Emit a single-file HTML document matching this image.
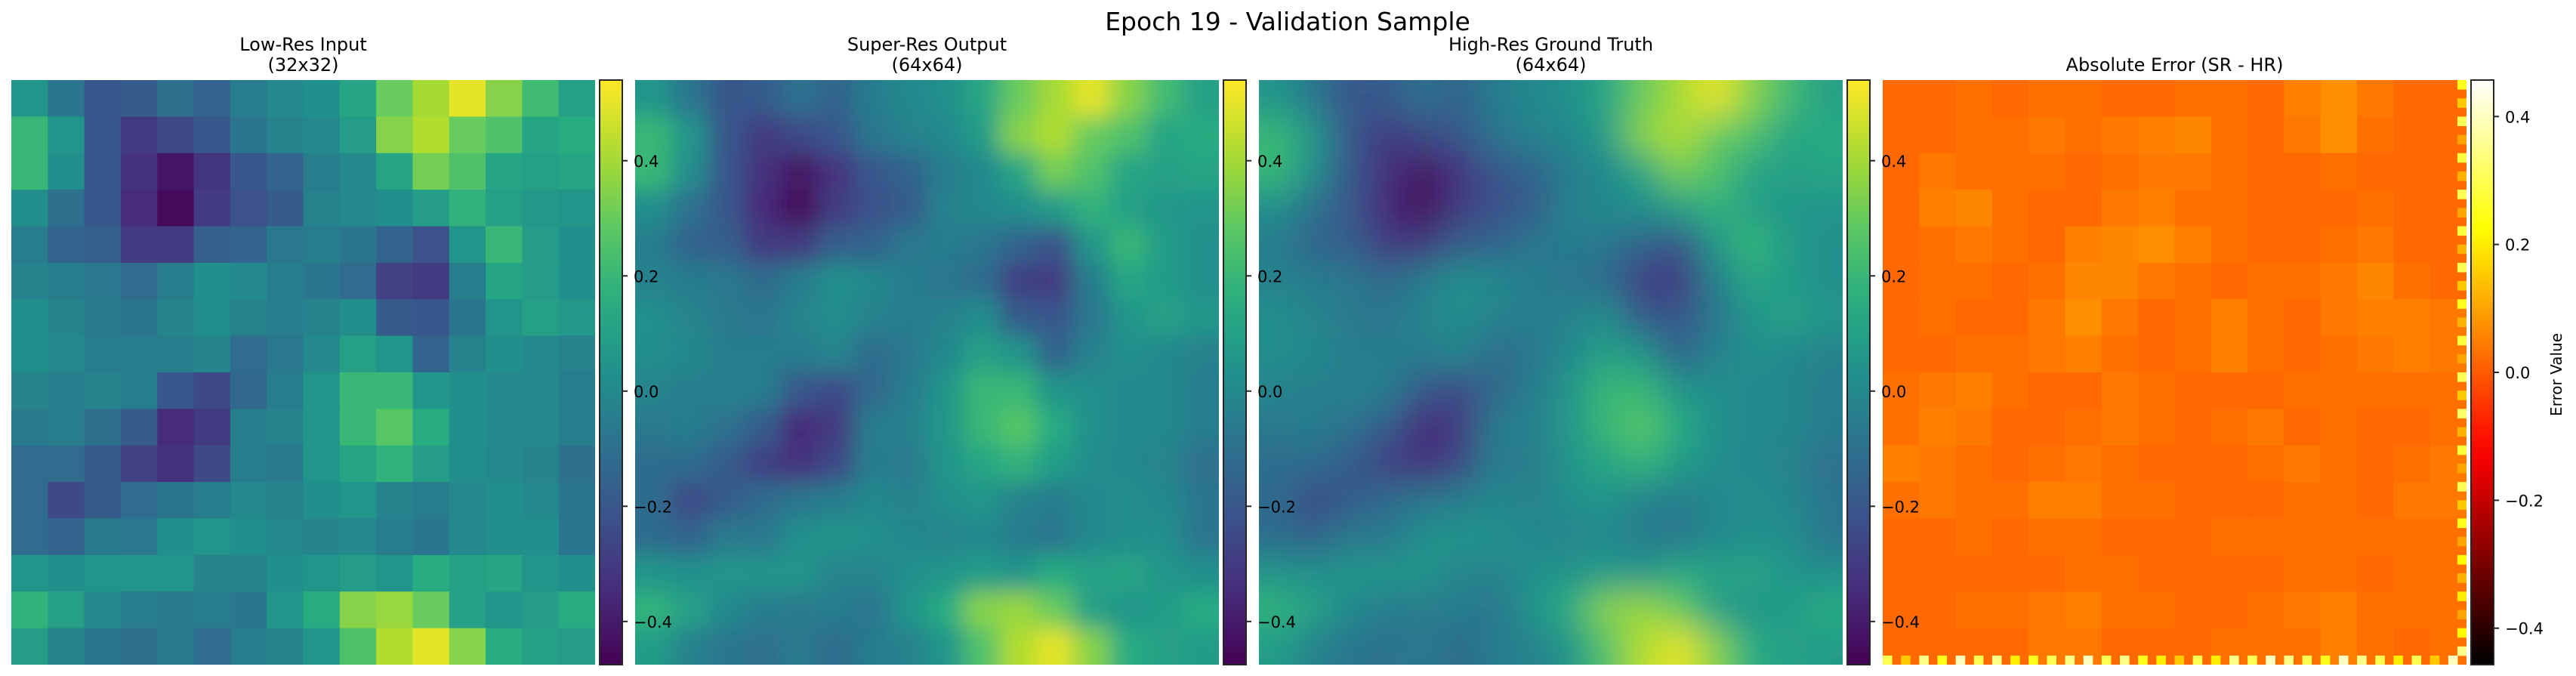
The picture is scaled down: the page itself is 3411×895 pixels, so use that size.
<!DOCTYPE html>
<html><head><meta charset="utf-8">
<style>
html,body{margin:0;padding:0;background:#fff;width:3411px;height:895px;overflow:hidden;}
svg{display:block;font-family:"DejaVu Sans","Liberation Sans",sans-serif;}
</style></head>
<body>
<svg id="fig" width="3411" height="895" viewBox="0 0 3411 895" xmlns="http://www.w3.org/2000/svg" overflow="hidden">
<defs>
<linearGradient id="gViridis" x1="0" y1="1" x2="0" y2="0"></linearGradient>
<linearGradient id="gHot" x1="0" y1="1" x2="0" y2="0"></linearGradient>
<filter id="blurHR" filterUnits="userSpaceOnUse" x="1600" y="40" width="908" height="854"><feGaussianBlur stdDeviation="22"/><feComponentTransfer><feFuncA type="linear" slope="60"/></feComponentTransfer></filter>
<filter id="blurSR" filterUnits="userSpaceOnUse" x="774" y="40" width="908" height="854"><feGaussianBlur stdDeviation="15"/><feComponentTransfer><feFuncA type="linear" slope="60"/></feComponentTransfer></filter>
<clipPath id="clip1"><rect x="15" y="106" width="773" height="774"/></clipPath>
<clipPath id="clip2"><rect x="841" y="106" width="773" height="774"/></clipPath>
<clipPath id="clip3"><rect x="1667" y="106" width="773" height="774"/></clipPath>
<clipPath id="clip4"><rect x="2493" y="106" width="773" height="774"/></clipPath>
</defs>
<text x="1705" y="40" font-size="33" text-anchor="middle" fill="#000">Epoch 19 - Validation Sample</text>
<g id="panels"></g>
</svg>
<script>
// ---- data ----
const lrValues = [
[0.05,-0.08,-0.20,-0.18,-0.10,-0.15,-0.05,0.00,0.03,0.12,0.30,0.40,0.50,0.35,0.22,0.10],
[0.20,0.05,-0.20,-0.30,-0.25,-0.20,-0.08,-0.03,0.00,0.08,0.35,0.42,0.30,0.25,0.12,0.15],
[0.20,0.02,-0.20,-0.33,-0.42,-0.32,-0.20,-0.15,-0.05,0.00,0.12,0.32,0.25,0.12,0.10,0.12],
[0.02,-0.10,-0.20,-0.35,-0.45,-0.30,-0.22,-0.18,-0.03,0.00,0.02,0.08,0.18,0.10,0.06,0.05],
[-0.05,-0.15,-0.17,-0.30,-0.30,-0.17,-0.15,-0.07,-0.05,-0.08,-0.15,-0.22,0.05,0.20,0.08,0.03],
[-0.03,-0.05,-0.07,-0.12,-0.05,0.03,0.00,-0.05,-0.08,-0.12,-0.28,-0.30,-0.05,0.12,0.08,0.03],
[0.03,-0.02,-0.06,-0.08,-0.02,0.02,-0.03,-0.05,-0.03,0.02,-0.18,-0.20,-0.08,0.05,0.10,0.06],
[0.02,0.00,-0.05,-0.05,-0.05,-0.02,-0.12,-0.07,0.00,0.10,0.05,-0.15,-0.03,0.03,0.00,-0.03],
[-0.02,-0.05,-0.03,-0.05,-0.20,-0.25,-0.13,-0.05,0.05,0.20,0.20,0.05,0.03,0.00,0.00,-0.05],
[-0.06,-0.05,-0.10,-0.18,-0.35,-0.30,-0.05,-0.03,0.05,0.20,0.27,0.15,0.03,0.00,0.00,-0.05],
[-0.12,-0.12,-0.18,-0.28,-0.33,-0.25,-0.05,-0.06,0.05,0.12,0.18,0.08,0.02,0.00,-0.02,-0.10],
[-0.12,-0.25,-0.18,-0.12,-0.08,-0.05,0.00,-0.03,0.03,0.05,-0.03,-0.05,0.00,0.02,0.00,-0.08],
[-0.12,-0.15,-0.06,-0.07,0.03,0.05,0.03,0.00,-0.02,0.00,-0.05,-0.08,0.00,0.02,0.03,-0.08],
[0.05,0.03,0.05,0.05,0.05,-0.02,-0.02,0.03,0.05,0.08,0.05,0.15,0.10,0.12,0.05,0.03],
[0.18,0.10,0.00,-0.05,-0.06,-0.05,-0.08,0.05,0.15,0.35,0.38,0.30,0.10,0.05,0.08,0.15],
[0.08,-0.03,-0.08,-0.10,-0.06,-0.12,-0.05,-0.03,0.05,0.25,0.42,0.50,0.35,0.15,0.10,0.08]
];
// SR and HR depict the same field as the LR input at higher resolution
const srValues = lrValues;
const hrValues = lrValues;
const errValues = [
[.02,.02,.03,.02,.03,.03,.02,.02,.03,.03,.02,.05,.07,.04,.02,.02],
[.02,.02,.03,.03,.04,.03,.04,.05,.06,.03,.02,.04,.07,.03,.02,.02],
[.02,.04,.03,.03,.03,.02,.03,.04,.04,.03,.02,.02,.03,.02,.02,.02],
[.02,.05,.06,.03,.02,.02,.04,.05,.03,.03,.02,.02,.02,.03,.02,.02],
[.02,.03,.04,.03,.02,.05,.06,.07,.05,.03,.02,.02,.03,.04,.02,.02],
[.02,.03,.03,.02,.03,.06,.06,.04,.03,.02,.03,.03,.04,.06,.03,.02],
[.02,.03,.02,.02,.04,.07,.04,.02,.03,.05,.03,.02,.04,.05,.05,.04],
[.02,.02,.03,.03,.04,.05,.03,.02,.03,.05,.03,.02,.03,.04,.05,.04],
[.03,.04,.05,.03,.02,.02,.04,.03,.02,.02,.02,.03,.03,.03,.03,.03],
[.03,.05,.04,.02,.02,.03,.04,.03,.02,.03,.04,.02,.03,.02,.02,.03],
[.05,.04,.03,.02,.03,.04,.03,.02,.02,.02,.03,.04,.03,.02,.03,.04],
[.03,.04,.03,.03,.05,.05,.03,.03,.02,.02,.02,.03,.03,.02,.04,.04],
[.02,.02,.03,.02,.03,.03,.02,.02,.02,.03,.03,.03,.03,.03,.03,.03],
[.02,.02,.02,.02,.02,.03,.03,.02,.02,.02,.02,.03,.03,.02,.03,.03],
[.02,.02,.03,.03,.04,.05,.03,.03,.02,.02,.03,.04,.05,.03,.03,.03],
[.02,.02,.02,.02,.04,.04,.02,.02,.02,.03,.03,.03,.05,.03,.02,.03]
];
const errBottomEdge = [0.30,0.15,0.35,0.25,0.40,0.30,0.35,0.20,0.25,0.30,0.35,0.40,0.30,0.35,0.25,0.20,0.15,0.30,0.20,0.35,0.30,0.40,0.35,0.30,0.25,0.40,0.35,0.30,0.20,0.30,0.15,0.40];
const errRightEdge = [0.25,0.15,0.30,0.10,0.28,0.12,0.30,0.10,0.28,0.12,0.30,0.15,0.25,0.12,0.28,0.10,0.30,0.15,0.32,0.12,0.28,0.10,0.30,0.15,0.25,0.10,0.22,0.12,0.20,0.10,0.22,0.35];
const fieldTicks = [0.4, 0.2, 0.0, -0.2, -0.4];
const errTicks = [0.4, 0.2, 0.0, -0.2, -0.4];
const fieldRange = [-0.475, 0.54];
const errRange = [-0.457, 0.457];
const panelTitles = [["Low-Res Input","(32x32)"],["Super-Res Output","(64x64)"],["High-Res Ground Truth","(64x64)"],["Absolute Error (SR - HR)",""]];

// ---- colormaps ----
const viridisStops = ["#440154","#472d7b","#3b528b","#2c728e","#21918c","#28ae80","#5ec962","#addc30","#fde725"];
function hex2rgb(h){return [parseInt(h.slice(1,3),16),parseInt(h.slice(3,5),16),parseInt(h.slice(5,7),16)];}
function viridis(t){
  t=Math.max(0,Math.min(1,t));
  const n=viridisStops.length-1, i=Math.min(n-1,Math.floor(t*n)), f=t*n-i;
  const a=hex2rgb(viridisStops[i]), b=hex2rgb(viridisStops[i+1]);
  return `rgb(${a.map((v,k)=>Math.round(v+(b[k]-v)*f)).join(",")})`;
}
function hot(t){
  t=Math.max(0,Math.min(1,t));
  const cl=x=>Math.max(0,Math.min(1,x));
  const r=cl(t/0.365), g=cl((t-0.365)/0.381), b=cl((t-0.746)/0.254);
  return `rgb(${Math.round(r*255)},${Math.round(g*255)},${Math.round(b*255)})`;
}
const NS="http://www.w3.org/2000/svg";
function mk(tag,attrs,parent){const e=document.createElementNS(NS,tag);for(const k in attrs)e.setAttribute(k,attrs[k]);if(parent)parent.appendChild(e);return e;}

// gradients
const gv=document.getElementById("gViridis"), gh=document.getElementById("gHot");
for(let i=0;i<=20;i++){const t=i/20;mk("stop",{offset:t,"stop-color":viridis(t)},gv);mk("stop",{offset:t,"stop-color":hot(t)},gh);}

// ---- layout ----
const TOP=106, H=774, W=773;
const panelX=[15,841,1667,2493];
const cbarX=[794,1620,2446,3272];
const CBW=30;
function yScale(v,range){return TOP+H-(v-range[0])/(range[1]-range[0])*H;}
function xCell(c,n,x0){return x0+c*W/n;}
function yCell(r,n){return TOP+r*H/n;}

const root=document.getElementById("panels");
function drawHeat(idx,vals,cmap,range,filterId,ext){
  const g=mk("g",{"clip-path":`url(#clip${idx+1})`},root);
  
  
  const inner=mk("g",filterId?{filter:`url(#${filterId})`}:{},g);
  const n=vals.length, m=vals[0].length;
  for(let r=0;r<n;r++)for(let c=0;c<m;c++){
    let x=xCell(c,m,panelX[idx]), y=yCell(r,n), w=W/m+0.6, h=H/n+0.6;
    if(ext){ if(c===0){x-=25;w+=25;} if(c===m-1){w+=25;} if(r===0){y-=25;h+=25;} if(r===n-1){h+=12;} }
    const t=(vals[r][c]-range[0])/(range[1]-range[0]);
    const rc=mk("rect",{x:x.toFixed(2),y:y.toFixed(2),width:w.toFixed(2),height:h.toFixed(2),fill:cmap(t)},inner);
    
    
  }
  return g;
}
drawHeat(0,lrValues,viridis,fieldRange,null,false);
drawHeat(1,srValues,viridis,fieldRange,"blurSR",true);
drawHeat(2,hrValues,viridis,fieldRange,"blurHR",true);
const eg=drawHeat(3,errValues,hot,errRange,null,false);
// error edge artifacts (1/64 strips)
const strip=W/64;
errBottomEdge.forEach((v,i)=>{
  const rc=mk("rect",{x:(panelX[3]+i*W/errBottomEdge.length).toFixed(2),y:(TOP+H-strip).toFixed(2),width:(W/errBottomEdge.length/2+0.5).toFixed(2),height:strip.toFixed(2),fill:hot((v-errRange[0])/(errRange[1]-errRange[0]))},eg);
  
  
});
errRightEdge.forEach((v,i)=>{
  const rc=mk("rect",{x:(panelX[3]+W-strip).toFixed(2),y:(TOP+i*H/errRightEdge.length).toFixed(2),width:strip.toFixed(2),height:(H/errRightEdge.length/2+0.5).toFixed(2),fill:hot((v-errRange[0])/(errRange[1]-errRange[0]))},eg);
  
  
});

// titles
panelTitles.forEach((t,i)=>{
  const cx=panelX[i]+W/2;
  if(t[1]){
    const a=mk("text",{x:cx,y:67,"font-size":24,"text-anchor":"middle",fill:"#000"},root);a.textContent=t[0];
    
    
    const b=mk("text",{x:cx,y:94,"font-size":24,"text-anchor":"middle",fill:"#000"},root);b.textContent=t[1];
    
    
  } else {
    const a=mk("text",{x:cx,y:94,"font-size":24,"text-anchor":"middle",fill:"#000"},root);a.textContent=t[0];
    
    
  }
});

// colorbars
function fmt(v){return (v<0?"\u2212":"")+Math.abs(v).toFixed(1);}
cbarX.forEach((x,i)=>{
  const isErr=i===3, range=isErr?errRange:fieldRange, ticks=isErr?errTicks:fieldTicks;
  const g=mk("g",{},root);
  
  
  mk("rect",{x:x,y:TOP,width:CBW,height:H,fill:`url(#${isErr?"gHot":"gViridis"})`,stroke:"#262626","stroke-width":2},g);
  ticks.forEach(v=>{
    const y=yScale(v,range);
    mk("line",{x1:x+CBW,x2:x+CBW+7,y1:y,y2:y,stroke:"#262626","stroke-width":2},g);
    const tx=mk("text",{x:x+CBW+15,y:y+8,"font-size":21,fill:"#000"},g);tx.textContent=fmt(v);
    
    
  });
});
const lab=mk("text",{x:0,y:0,"font-size":20,"text-anchor":"middle",fill:"#000",transform:"translate(3392,496) rotate(-90)"},root);
lab.textContent="Error Value";


</script>
</body></html>
